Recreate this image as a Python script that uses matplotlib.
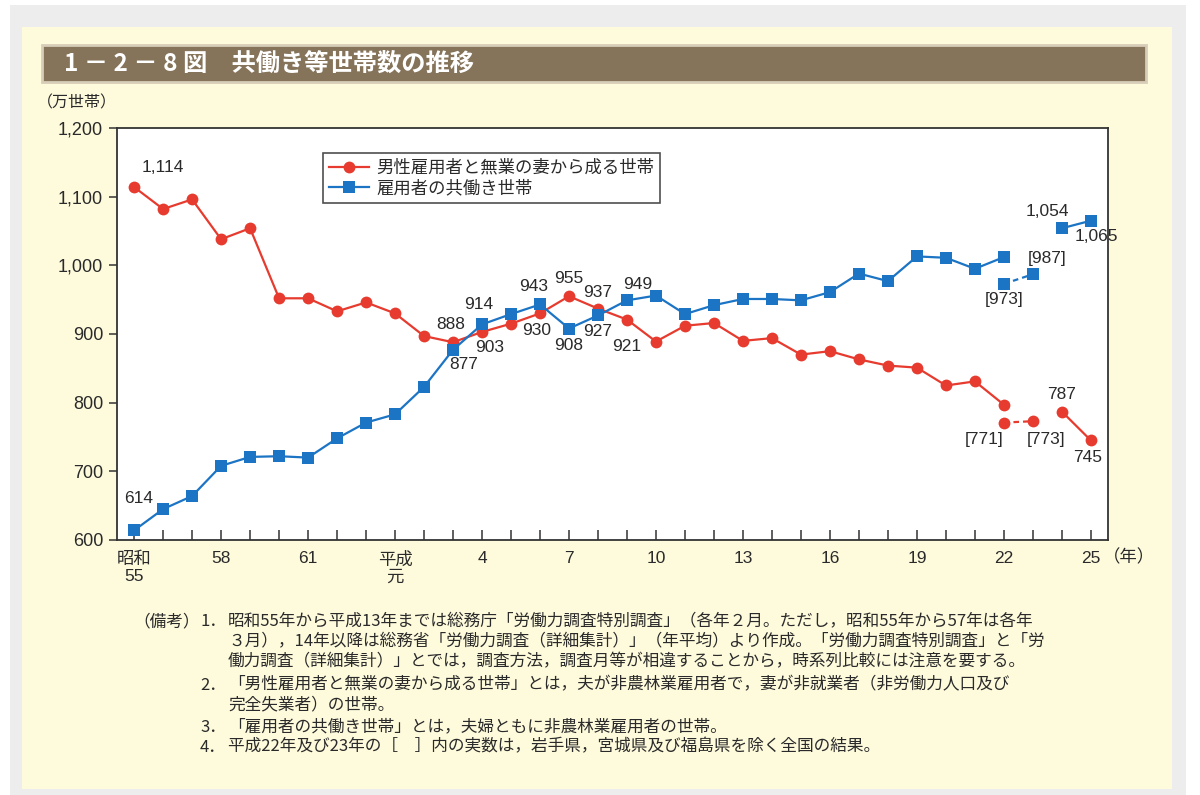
import matplotlib
matplotlib.use("Agg")
import matplotlib.pyplot as plt
from matplotlib.patches import Rectangle
from matplotlib.lines import Line2D

# ---------------- data ----------------
years = list(range(1980, 2014))
male_single = [1114, 1082, 1096, 1038, 1054, 952, 952, 933, 946, 930, 897, 888, 903, 915,
               930, 955, 937, 921, 889, 912, 916, 890, 894, 870, 875, 863, 854, 851, 825,
               831, 797, None, 787, 745]
dual_income = [614, 645, 664, 708, 721, 722, 720, 748, 771, 783, 823, 877, 914, 929,
               943, 908, 927, 949, 956, 929, 942, 951, 951, 949, 961, 988, 977, 1013, 1011,
               995, 1012, None, 1054, 1065]
bracket_years = [2010, 2011]
male_single_bracket = [771, 773]
dual_income_bracket = [973, 987]

tick_years = [1980, 1983, 1986, 1989, 1992, 1995, 1998, 2001, 2004, 2007, 2010, 2013]
tick_labels = ["昭和\n55", "58", "61", "平成\n元", "4", "7", "10", "13", "16", "19", "22", "25"]
y_ticks = [600, 700, 800, 900, 1000, 1100, 1200]

legend_labels = ["男性雇用者と無業の妻から成る世帯", "雇用者の共働き世帯"]
title = "1 － 2 － 8 図　共働き等世帯数の推移"

notes = [
    ("（備考）", "1．", "昭和55年から平成13年までは総務庁「労働力調査特別調査」（各年２月。ただし，昭和55年から57年は各年"),
    ("", "", "３月），14年以降は総務省「労働力調査（詳細集計）」（年平均）より作成。「労働力調査特別調査」と「労"),
    ("", "", "働力調査（詳細集計）」とでは，調査方法，調査月等が相違することから，時系列比較には注意を要する。"),
    ("", "2．", "「男性雇用者と無業の妻から成る世帯」とは，夫が非農林業雇用者で，妻が非就業者（非労働力人口及び"),
    ("", "", "完全失業者）の世帯。"),
    ("", "3．", "「雇用者の共働き世帯」とは，夫婦ともに非農林業雇用者の世帯。"),
    ("", "4．", "平成22年及び23年の［　］内の実数は，岩手県，宮城県及び福島県を除く全国の結果。"),
]

# ---------------- styling ----------------
RED = "#e63b2e"
BLUE = "#1c74c4"
TXT = "#2a2a2a"
NUMFONT = ["Liberation Sans", "Noto Sans CJK JP"]
JPFONT = ["Noto Sans CJK JP", "DejaVu Sans"]
plt.rcParams["font.family"] = NUMFONT

W, H = 1200, 795
fig = plt.figure(figsize=(W / 100, H / 100), dpi=100, facecolor="white")


def rect(x0, y0, x1, y1, **kw):
    r = Rectangle((x0 / W, 1 - y1 / H), (x1 - x0) / W, (y1 - y0) / H,
                  transform=fig.transFigure, **kw)
    fig.patches.append(r)


rect(10, 5, 1186, 800, facecolor="#ededed", edgecolor="none", zorder=-10)
rect(22, 27, 1172, 789, facecolor="#fefadc", edgecolor="none", zorder=-9)
rect(42, 45, 1146, 82, facecolor="#85735a", edgecolor="#d8cdb8", linewidth=2, zorder=-8)
fig.text(64 / W, 1 - 64 / H, title, color="white", fontsize=17.5, fontweight="bold",
         family=JPFONT, va="center", ha="left")

ax = fig.add_axes([117 / W, 1 - 540 / H, (1108 - 117) / W, (540 - 128) / H])
ax.set_facecolor("white")
ax.set_xlim(1979.41, 2013.59)
ax.set_ylim(600, 1200)

# main series (solid segments) plus bracketed (dashed) segment
seg1 = slice(0, 31)
seg2 = slice(32, 34)
for vals, br, color, marker, ms in [
    (male_single, male_single_bracket, RED, "o", 8.5),
    (dual_income, dual_income_bracket, BLUE, "s", 8),
]:
    ax.plot(years[seg1], vals[seg1], color=color, lw=1.6, marker=marker, ms=ms,
            mew=0, zorder=3, clip_on=False)
    ax.plot(years[seg2], vals[seg2], color=color, lw=1.6, marker=marker, ms=ms,
            mew=0, zorder=3, clip_on=False)
    ax.plot(bracket_years, br, color=color, lw=1.6, ls=(0, (2.5, 1.8)), marker=marker,
            ms=ms, mew=0, zorder=3, clip_on=False)


def val(series, yr, bracket=False):
    if bracket:
        return (male_single_bracket if series == "r" else dual_income_bracket)[bracket_years.index(yr)]
    return (male_single if series == "r" else dual_income)[years.index(yr)]


# data labels: (series, year, bracketed, text, dx px, dy px)
labels = [
    ("r", 1980, False, "1,114", 29, 20),
    ("b", 1980, False, "614", 5, 32),
    ("r", 1991, False, "888", -2, 18),
    ("b", 1991, False, "877", 11, -15),
    ("b", 1992, False, "914", -3, 20),
    ("r", 1992, False, "903", 8, -16),
    ("b", 1994, False, "943", -6, 18),
    ("r", 1994, False, "930", -3, -17),
    ("r", 1995, False, "955", 0, 18),
    ("b", 1995, False, "908", 0, -17),
    ("r", 1996, False, "937", 0, 16),
    ("b", 1996, False, "927", 0, -16),
    ("b", 1997, False, "949", 11, 16),
    ("r", 1997, False, "921", 0, -27),
    ("b", 2012, False, "1,054", -15, 17),
    ("b", 2013, False, "1,065", 5, -16),
    ("b", 2011, True, "[987]", 14, 16),
    ("b", 2010, True, "[973]", 0, -16),
    ("r", 2012, False, "787", 0, 17),
    ("r", 2010, True, "[771]", -20, -17),
    ("r", 2011, True, "[773]", 13, -18),
    ("r", 2013, False, "745", -3, -17),
]
for s, yr, br, txt, dx, dy in labels:
    ax.annotate(txt, (yr, val(s, yr, br)), xytext=(dx, dy), textcoords="offset pixels",
                ha="center", va="center", fontsize=12.5, color=TXT, zorder=4)

# axes styling
for sp in ax.spines.values():
    sp.set_color("#333333")
    sp.set_linewidth(1.3)
ax.set_xticks(years, minor=True)
ax.set_xticks(tick_years)
ax.set_xticklabels(tick_labels, linespacing=1.2)
ax.tick_params(axis="x", which="both", direction="in", length=7, width=1.1,
               color="#333333", pad=8, labelsize=12.5, labelcolor=TXT)
ax.set_yticks(y_ticks)
ax.set_yticklabels([f"{v:,}" for v in y_ticks])
ax.tick_params(axis="y", direction="out", length=6, width=1.1, color="#333333",
               pad=4, labelsize=13, labelcolor=TXT)
fig.text(1103 / W, 1 - 557 / H, "（年）", ha="left", va="center",
         fontsize=12.5, color=TXT, family=JPFONT)
fig.text(77 / W, 1 - 103 / H, "（万世帯）", ha="center", va="center", fontsize=11.5,
         color=TXT, family=JPFONT)

handles = [
    Line2D([], [], color=RED, lw=1.6, marker="o", ms=8.5, mew=0),
    Line2D([], [], color=BLUE, lw=1.6, marker="s", ms=8, mew=0),
]
leg = ax.legend(handles, legend_labels, loc="upper left", bbox_to_anchor=(0.208, 0.94),
                borderaxespad=0, frameon=True, fancybox=False, edgecolor="#222222",
                handlelength=2.3, handletextpad=0.4, borderpad=0.35, labelspacing=0.15,
                prop={"family": JPFONT, "size": 12.5})
leg.get_frame().set_linewidth(1.2)
for t in leg.get_texts():
    t.set_color(TXT)

# notes
note_y = [622, 642, 662, 685, 705, 727, 747]
for (head, num, body), y in zip(notes, note_y):
    if head:
        fig.text(133 / W, 1 - y / H, head, ha="left", va="center", fontsize=12,
                 color=TXT, family=JPFONT)
    if num:
        fig.text(200 / W, 1 - y / H, num, ha="left", va="center", fontsize=12,
                 color=TXT, family=JPFONT)
    fig.text(228 / W, 1 - y / H, body, ha="left", va="center", fontsize=12,
             color=TXT, family=JPFONT)

fig.savefig("out.png", dpi=100, facecolor="white")
